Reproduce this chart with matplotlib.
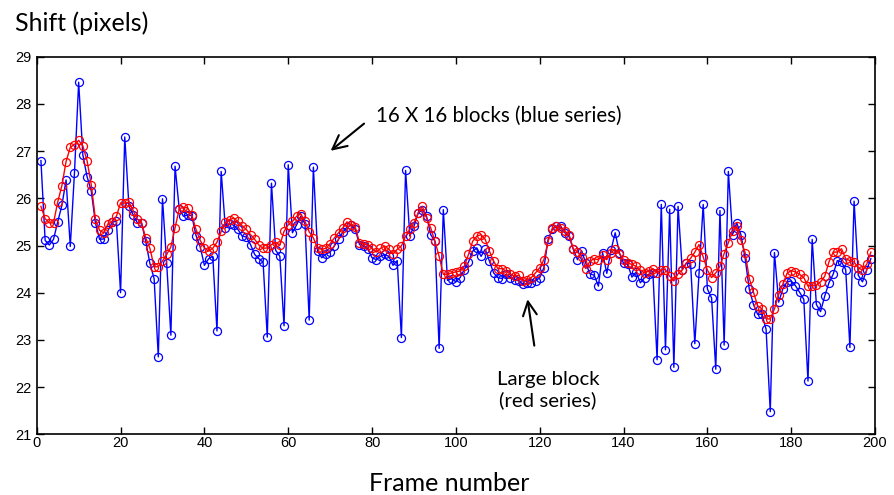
import numpy as np
import matplotlib
matplotlib.use("Agg")
import matplotlib.pyplot as plt

# frame numbers
frames = np.arange(1, 200)

# 16 x 16 blocks (blue)
blue_shift = [
    26.80, 25.11, 25.01, 25.13, 25.50, 25.85, 26.39, 24.98, 26.54, 28.46,
    26.92, 26.46, 26.16, 25.48, 25.13, 25.14, 25.32, 25.49, 25.52, 24.00,
    27.30, 25.83, 25.65, 25.48, 25.48, 25.09,
    24.62, 24.30, 22.64, 25.99, 24.62, 23.10, 26.68, 25.77, 25.62, 25.65,
    25.63, 25.21, 24.97, 24.58, 24.72, 24.77, 23.19, 26.57, 25.37, 25.46,
    25.43, 25.34, 25.20, 25.18,
    25.02, 24.81, 24.72, 24.65, 23.06, 26.32, 24.90, 24.77, 23.30, 26.71,
    25.27, 25.44, 25.62, 25.46, 23.42, 26.66, 24.88, 24.74, 24.82, 24.86,
    24.99, 25.13, 25.28, 25.39, 25.43,
    25.34, 25.02, 25.00, 24.92, 24.74, 24.70, 24.77, 24.81, 24.77, 24.58,
    24.68, 23.05, 26.59, 25.20, 25.41, 25.69, 25.76, 25.62, 25.23, 25.09,
    22.82, 25.76, 24.26, 24.30,
    24.23, 24.32, 24.49, 24.65, 24.88, 24.95, 24.77, 24.92, 24.67, 24.42,
    24.32, 24.30, 24.39, 24.32, 24.28, 24.25, 24.18, 24.20, 24.21, 24.25,
    24.32, 24.53, 25.13, 25.34, 25.41, 25.41,
    25.27, 25.20, 24.92, 24.70, 24.89, 24.62, 24.40, 24.37, 24.14, 24.85,
    24.41, 24.90, 25.27, 24.85, 24.62, 24.60, 24.33, 24.44, 24.21, 24.32,
    24.39, 24.42, 22.58,
    25.87, 22.79, 25.77, 22.42, 25.83, 24.49, 24.63, 24.61, 22.92, 24.41,
    25.87, 24.08, 23.89, 22.38, 25.74, 22.89, 26.57, 25.23, 25.48, 25.23,
    24.73, 24.07, 23.75, 23.54, 23.54, 23.23, 21.48,
    24.85, 23.80, 24.08, 24.23, 24.25, 24.15, 24.01, 23.86, 22.13, 25.13,
    23.75, 23.60, 23.93, 24.21, 24.39, 24.68, 24.65, 24.49, 22.84, 25.94,
    24.37, 24.23, 24.48, 24.72,
]

# large block (red)
red_shift = [
    25.83, 25.57, 25.48, 25.48, 25.92, 26.27, 26.78, 27.08, 27.14, 27.23,
    27.11, 26.80, 26.29, 25.56, 25.32, 25.27, 25.46, 25.50, 25.62, 25.90,
    25.90, 25.92, 25.74, 25.56, 25.48, 25.16,
    24.94, 24.55, 24.55, 24.67, 24.81, 24.97, 25.37, 25.78, 25.81, 25.80,
    25.64, 25.34, 25.11, 24.95, 24.88, 24.94, 25.07, 25.30, 25.49, 25.55,
    25.58, 25.51, 25.42, 25.34,
    25.23, 25.13, 25.01, 24.94, 24.95, 25.02, 25.07, 25.01, 25.30, 25.44,
    25.51, 25.62, 25.67, 25.51, 25.29, 25.16, 24.94, 24.92, 24.94, 25.04,
    25.16, 25.27, 25.37, 25.50, 25.44,
    25.39, 25.06, 25.04, 25.01, 24.94, 24.86, 24.94, 24.99, 24.92, 24.82,
    24.92, 24.99, 25.20, 25.34, 25.48, 25.69, 25.83, 25.58, 25.37, 25.09,
    24.77, 24.39, 24.39, 24.42,
    24.44, 24.46, 24.56, 24.81, 25.09, 25.20, 25.23, 25.13, 24.88, 24.67,
    24.51, 24.51, 24.46, 24.39, 24.35, 24.37, 24.25, 24.27, 24.32, 24.42,
    24.53, 24.70, 25.09, 25.37, 25.41, 25.37,
    25.30, 25.23, 24.93, 24.86, 24.76, 24.51, 24.67, 24.72, 24.70, 24.79,
    24.70, 24.85, 24.92, 24.83, 24.70, 24.63, 24.60, 24.56, 24.48, 24.42,
    24.46, 24.51, 24.42,
    24.49, 24.49, 24.35, 24.25, 24.40, 24.48, 24.63, 24.73, 24.86, 25.02,
    24.76, 24.48, 24.32, 24.42, 24.56, 24.83, 25.06, 25.30, 25.42, 25.11,
    24.85, 24.30, 24.01, 23.72, 23.66, 23.45, 23.44,
    23.66, 23.96, 24.18, 24.41, 24.47, 24.44, 24.39, 24.32, 24.14, 24.15,
    24.16, 24.23, 24.35, 24.65, 24.86, 24.86, 24.93, 24.72, 24.68, 24.65,
    24.53, 24.48, 24.60, 24.86,
]

x_ticks = list(range(0, 201, 20))
y_ticks = list(range(21, 30))

label_font = ["Lato", "DejaVu Sans"]
tick_font = ["Liberation Sans", "DejaVu Sans"]

fig = plt.figure(figsize=(8.94, 4.95), dpi=100)
ax = fig.add_axes([0.0411, 0.1226, 0.9377, 0.7628])

ax.plot(frames, blue_shift, color="#0000ff", lw=1.0, marker="o", ms=5.8,
        mfc="none", mec="#0000ff", mew=0.9)
ax.plot(frames, red_shift, color="#ff0000", lw=1.0, marker="o", ms=5.8,
        mfc="none", mec="#ff0000", mew=0.9)

ax.set_xlim(0, 200)
ax.set_ylim(21, 29)
ax.set_xticks(x_ticks)
ax.set_yticks(y_ticks)
ax.tick_params(direction="in", top=True, right=True, length=5, width=1,
               labelsize=10.5, colors="black")
ax.tick_params(axis="x", pad=1.5)
ax.tick_params(axis="y", pad=4)
for lab in ax.get_xticklabels() + ax.get_yticklabels():
    lab.set_family(tick_font)
for sp in ax.spines.values():
    sp.set_linewidth(1.2)

fig.text(0.017, 0.953, "Shift (pixels)", fontsize=18, family=label_font,
         ha="left", va="center")
fig.text(0.502, 0.024, "Frame number", fontsize=18, family=label_font,
         ha="center", va="center")

ax.annotate("", xy=(69.6, 26.97), xytext=(78.6, 27.62),
            arrowprops=dict(arrowstyle="->", lw=1.5, color="black",
                            mutation_scale=25))
ax.text(81.0, 27.75, "16 X 16 blocks (blue series)", fontsize=14.8,
        family=label_font, ha="left", va="center")

ax.annotate("", xy=(117.0, 23.92), xytext=(118.8, 22.82),
            arrowprops=dict(arrowstyle="->", lw=1.5, color="black",
                            mutation_scale=25))
ax.text(122.0, 21.93, "Large block\n(red series)", fontsize=14.7,
        family=label_font, ha="center", va="center", linespacing=1.2)

fig.savefig("out.png", dpi=100)
